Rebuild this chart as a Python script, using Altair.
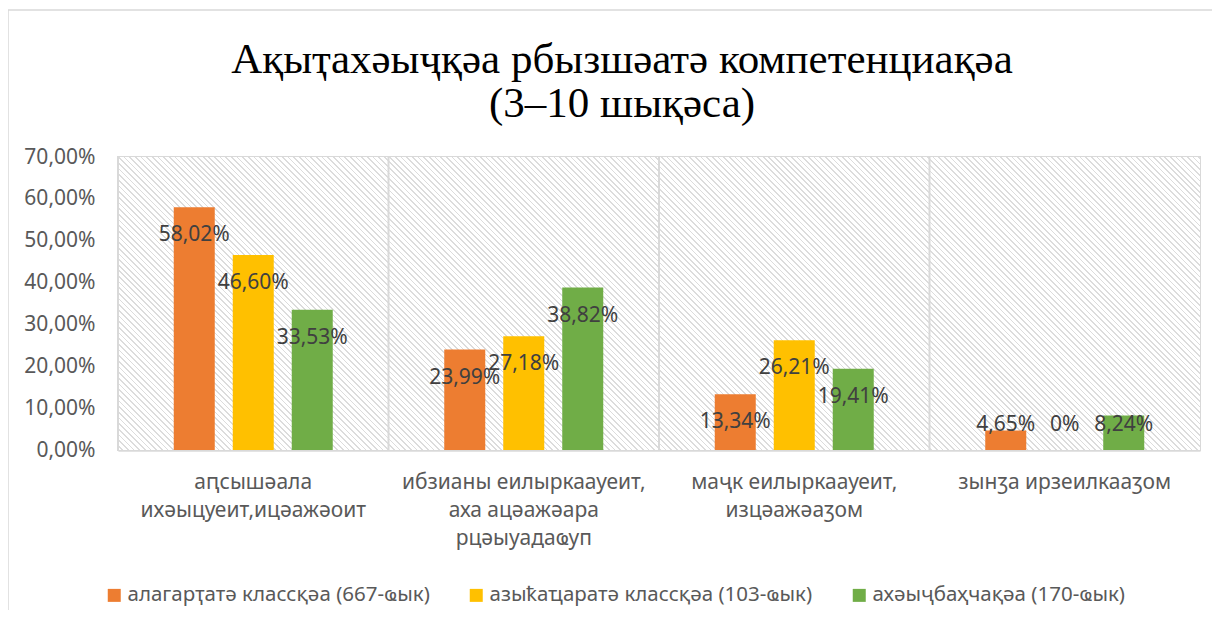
import altair as alt
import pandas as pd

# ---------------- data ----------------
categories = [
    "аԥсышәала\nихәыцуеит,ицәажәоит",
    "ибзианы еилыркаауеит,\nаха ацәажәара\nрцәыуадаҩуп",
    "маҷк еилыркаауеит,\nизцәажәаӡом",
    "зынӡа ирзеилкааӡом",
]
series = [
    "алагарҭатә классқәа (667-ҩык)",
    "азыҟаҵаратә классқәа (103-ҩык)",
    "ахәыҷбаҳчақәа (170-ҩык)",
]
values_s1 = [0.5802, 0.2399, 0.1334, 0.0465]
values_s2 = [0.4660, 0.2718, 0.2621, 0.0]
values_s3 = [0.3353, 0.3882, 0.1941, 0.0824]
colors = ["#ED7D31", "#FFC000", "#70AD47"]
y_ticks = [0, 0.1, 0.2, 0.3, 0.4, 0.5, 0.6, 0.7]
title_lines = ["Ақыҭахәыҷқәа рбызшәатә компетенциақәа", "(3–10 шықәса)"]

rows = []
for name, vals in zip(series, [values_s1, values_s2, values_s3]):
    for c, v in zip(categories, vals):
        rows.append({"category": c, "series": name, "value": v})
df = pd.DataFrame(rows)
cat_df = pd.DataFrame({"category": categories})
one = pd.DataFrame({"k": [0]})

W, H = 1082, 293
FONT = "Noto Sans"
GRID = "#d9d9d9"
TXT = "#595959"

# hatch background as a striped linear gradient ("\" stripes at 45 deg)
period = 4.0
dt = period * 2 ** 0.5 / (W + H)
n = int(1 / dt) + 1
stops = []
for k in range(n):
    t0 = k * dt
    a = min(1.0, t0)
    b = min(1.0, t0 + 0.7 * dt)
    c = min(1.0, t0 + dt)
    stops += [
        {"offset": round(a, 6), "color": "#ffffff"},
        {"offset": round(b, 6), "color": "#ffffff"},
        {"offset": round(b, 6), "color": "#dcdcdc"},
        {"offset": round(c, 6), "color": "#dcdcdc"},
    ]
aa = W / (W + H)
bb = -H / (W + H)
den = aa * aa + bb * bb
gradient = {
    "gradient": "linear",
    "x1": 0, "y1": 1,
    "x2": round(aa / den, 5), "y2": round(1 + bb / den, 5),
    "stops": stops,
}

x_scale = alt.Scale(domain=categories, paddingInner=0, paddingOuter=0)
y_scale = alt.Scale(domain=[0, 0.7], nice=False)

x_axis = alt.Axis(
    title=None, labelExpr="split(datum.value, '\\n')", labelAngle=0,
    labelFont=FONT, labelFontSize=21, labelColor=TXT, labelLineHeight=28,
    labelPadding=21, labelLimit=400, ticks=False, domain=True,
    domainColor=GRID, domainWidth=2, grid=False,
)
y_axis = alt.Axis(
    title=None, values=y_ticks,
    labelExpr="replace(format(datum.value, '.2%'), '.', ',')",
    labelFont=FONT, labelFontSize=21, labelColor=TXT, labelPadding=23,
    ticks=False, domain=False, grid=True, gridColor=GRID, gridWidth=2,
)

hatch = alt.Chart(one).mark_rect(fill=gradient).encode(
    x=alt.value(0), x2=alt.value(W), y=alt.value(0), y2=alt.value(H)
)

frame = alt.Chart(one).mark_rect(
    fill="white", fillOpacity=0, stroke=GRID, strokeWidth=1.5, clip=False
).encode(x=alt.value(-110), x2=alt.value(1120), y=alt.value(-147), y2=alt.value(520))

vrules = alt.Chart(cat_df).mark_rule(color=GRID, strokeWidth=2).encode(
    x=alt.X("category:N", sort=categories, scale=x_scale, bandPosition=0, axis=x_axis)
)

xoff = alt.XOffset("series:N", sort=series,
                   scale=alt.Scale(domain=series, paddingInner=0.305, paddingOuter=0.945))

bars = alt.Chart(df).mark_bar().encode(
    x=alt.X("category:N", sort=categories, scale=x_scale, axis=x_axis),
    xOffset=xoff,
    y=alt.Y("value:Q", scale=y_scale, axis=y_axis),
    color=alt.Color(
        "series:N", sort=series,
        scale=alt.Scale(domain=series, range=colors),
        legend=alt.Legend(
            title=None, orient="none", legendX=-14, legendY=428,
            direction="horizontal", symbolType="square", symbolSize=169,
            symbolStrokeWidth=0, labelFont=FONT, labelFontSize=20.5,
            labelColor=TXT, labelOffset=3, columnPadding=36, labelLimit=500,
        ),
    ),
)

labels = alt.Chart(df).transform_calculate(
    label="datum.value === 0 ? '0%' : replace(format(datum.value, '.2%'), '.', ',')",
    label_y="max(datum.value - 0.0669, 0.0597)",
).mark_text(font=FONT, fontSize=21, color="#404040", baseline="middle", align="center").encode(
    x=alt.X("category:N", sort=categories, scale=x_scale, axis=x_axis),
    xOffset=xoff,
    y=alt.Y("label_y:Q", scale=y_scale, axis=y_axis),
    text="label:N",
)

chart = alt.layer(hatch, frame, vrules, bars, labels).properties(
    width=W, height=H,
    autosize=alt.AutoSizeParams(type="none"),
    padding={"left": 110, "top": 149, "right": 12, "bottom": 160},
    title=alt.TitleParams(
        text=title_lines, font="Liberation Serif", fontSize=43,
        fontWeight="normal", color="black", lineHeight=44,
        anchor="middle", dx=-37, offset=-117, baseline="top",
    ),
).configure_view(stroke=GRID, strokeWidth=2)

chart.save("out.html", embed_options={"renderer": "svg", "actions": False})
